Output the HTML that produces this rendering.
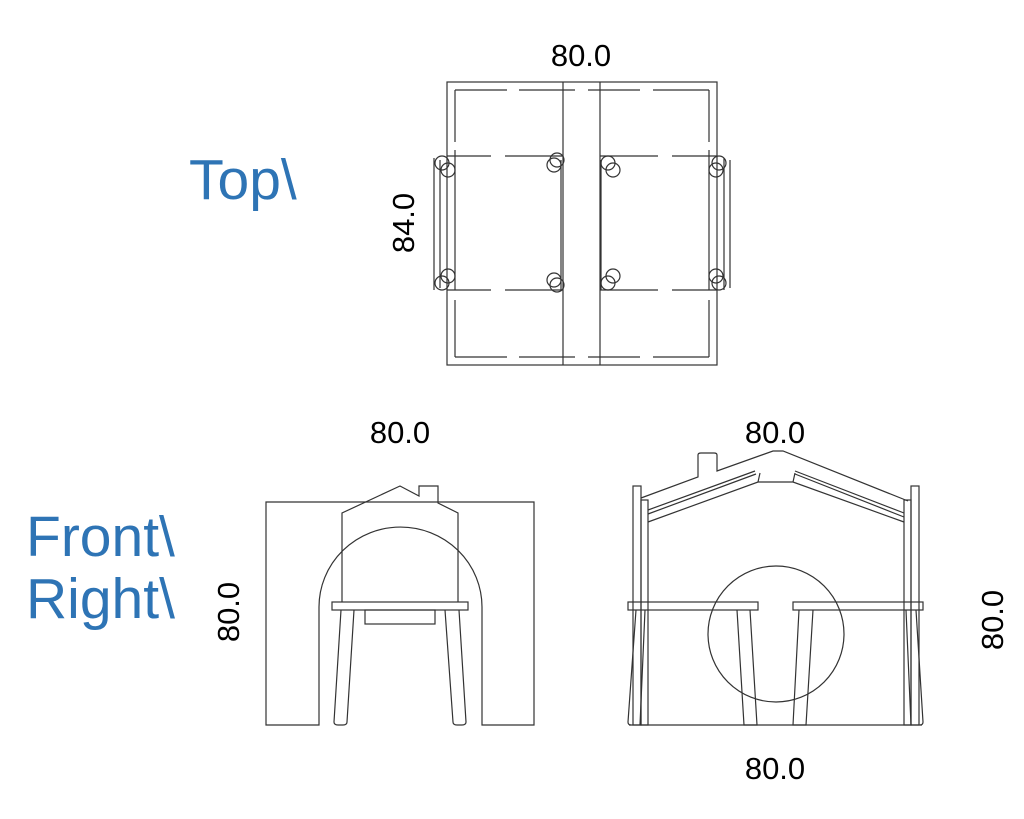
<!DOCTYPE html>
<html><head><meta charset="utf-8"><style>
html,body{margin:0;padding:0;background:#fff;width:1024px;height:819px;overflow:hidden}
svg{display:block}
.b{font-family:"Liberation Sans",sans-serif;fill:#2e74b5;font-size:57px}
.d{font-family:"Liberation Sans",sans-serif;fill:#000;font-size:31px}
</style></head><body>
<svg width="1024" height="819" viewBox="0 0 1024 819" xmlns="http://www.w3.org/2000/svg">
<text class="b" x="189" y="199">Top\</text>
<text class="b" x="26" y="556">Front\</text>
<text class="b" x="26" y="618">Right\</text>
<text class="d" x="581" y="66" text-anchor="middle">80.0</text>
<text class="d" transform="translate(414,223) rotate(-90)" text-anchor="middle">84.0</text>
<text class="d" x="400" y="443" text-anchor="middle">80.0</text>
<text class="d" x="775" y="443" text-anchor="middle">80.0</text>
<text class="d" x="775" y="779" text-anchor="middle">80.0</text>
<text class="d" transform="translate(239,612) rotate(-90)" text-anchor="middle">80.0</text>
<text class="d" transform="translate(1003,620) rotate(-90)" text-anchor="middle">80.0</text>

<g fill="none" stroke="#333" stroke-width="1.2">
<!-- TOP VIEW -->
<rect x="447" y="82" width="270" height="283"/>
<path d="M455 90H507M519 90H575M588 90H640M653 90H709M455 357H507M519 357H575M588 357H640M653 357H709"/>
<path d="M455 90V142M455 150V290M455 300V357M709 90V142M709 150V290M709 300V357"/>
<path d="M563 82V365M600 82V365"/>
<path d="M447 156H491M505 156H563M600 156H658M672 156H717M447 290H491M505 290H563M600 290H658M672 290H717" />
<path d="M561 160V290M601 160V290"/>
<path d="M434 158V290M440 160V288M724 158V290M730 160V288"/>
<circle cx="442" cy="163" r="7"/><circle cx="448" cy="170" r="7"/>
<circle cx="442" cy="283" r="7"/><circle cx="448" cy="276" r="7"/>
<circle cx="554" cy="165" r="7"/><circle cx="557" cy="160" r="7"/>
<circle cx="554" cy="280" r="7"/><circle cx="557" cy="285" r="7"/>
<circle cx="608" cy="163" r="7"/><circle cx="613" cy="170" r="7"/>
<circle cx="608" cy="283" r="7"/><circle cx="613" cy="276" r="7"/>
<circle cx="719" cy="163" r="7"/><circle cx="716" cy="170" r="7"/>
<circle cx="719" cy="283" r="7"/><circle cx="716" cy="276" r="7"/>

<!-- FRONT VIEW -->
<path d="M266 502H534V725H482V607A81.5 80 0 0 0 319 607V725H266Z"/>
<path d="M342 602V513L400 486L419 496V486H438V503L458 513V602"/>
<rect x="332" y="602" width="136" height="8"/>
<rect x="365" y="610" width="70" height="14"/>
<path d="M341 610L334 722Q334 725 338 725H343Q347 725 347 722L354 610"/>
<path d="M445 610L453 722Q453 725 457 725H462Q466 725 466 722L459 610"/>

<!-- RIGHT VIEW -->
<rect x="633" y="486" width="8" height="239"/>
<rect x="641" y="500" width="7" height="225"/>
<rect x="911" y="486" width="8" height="239"/>
<rect x="904" y="500" width="7" height="225"/>
<path d="M641 498L698 477V455Q698 453 701 453H714Q717 453 717 455V471L773 451H783L908 501"/>
<path d="M648 510L755 471M648 514L756 474M648 522L758 482H793L904 522M795 471L904 513M795 474L904 517"/>
<path d="M758 482L760 473M793 482L795 473"/>
<rect x="628" y="602" width="130" height="8"/>
<rect x="793" y="602" width="130" height="8"/>
<circle cx="776" cy="634" r="68"/>
<path d="M737 610L744 725H757L750 610M799 610L793 725H806L813 610"/>
<path d="M636 610L628 722Q628 725 631 725M645 610L640 725"/>
<path d="M916 610L923 722Q923 725 920 725M906 610L911 725"/>
<path d="M629 725H922"/>
</g>
</svg>
</body></html>
